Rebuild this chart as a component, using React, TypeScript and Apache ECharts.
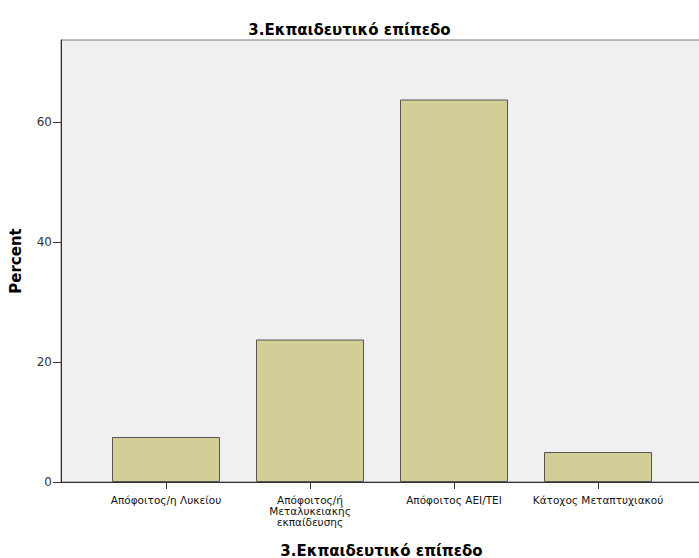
import React, { useEffect, useRef } from "react";
import * as echarts from "echarts";

const categories = [
  "Απόφοιτος/η Λυκείου",
  "Απόφοιτος/ή\nΜεταλυκειακής\nεκπαίδευσης",
  "Απόφοιτος ΑΕΙ/ΤΕΙ",
  "Κάτοχος Μεταπτυχιακού",
];
const percents = [7.5, 23.75, 63.75, 5.0];
const yTicks = [0, 20, 40, 60];
const titleText = "3.Εκπαιδευτικό επίπεδο";
const yName = "Percent";

export default function App() {
  const ref = useRef<HTMLDivElement>(null);
  useEffect(() => {
    if (!ref.current) return;
    const chart = echarts.init(ref.current, null, { renderer: "svg" });
    const font = "'DejaVu Sans', sans-serif";
    const positions = categories.map((_, i) => i);
    chart.setOption({
      animation: false,
      backgroundColor: "#ffffff",
      textStyle: { fontFamily: font },
      title: {
        text: titleText,
        left: "center",
        top: 17,
        textStyle: { fontSize: 15, fontWeight: "bold", color: "#000", fontFamily: font },
      },
      grid: {
        left: 61,
        right: -3,
        top: 40,
        bottom: 76,
        containLabel: false,
        outerBoundsMode: "none",
        show: true,
        backgroundColor: "#f0f0f0",
        borderColor: "#7a7a7a",
        borderWidth: 1,
      },
      xAxis: {
        type: "value",
        min: -0.729,
        max: 3.722,
        name: titleText,
        nameLocation: "middle",
        nameGap: 61,
        nameTextStyle: { fontSize: 15, fontWeight: "bold", color: "#000", fontFamily: font },
        splitLine: { show: false },
        axisLine: { show: true, onZero: false, lineStyle: { color: "#333", width: 1 } },
        axisTick: { show: true, length: 7, customValues: positions, lineStyle: { color: "#333" } },
        axisLabel: {
          customValues: positions,
          formatter: (v: number) => categories[Math.round(v)] ?? "",
          fontSize: 10.5,
          lineHeight: 11,
          color: "#111",
          margin: 12,
          fontFamily: font,
        },
      },
      yAxis: {
        type: "value",
        min: 0,
        max: 73.67,
        interval: 20,
        name: yName,
        nameLocation: "middle",
        nameRotate: 90,
        nameGap: 38,
        nameTextStyle: { fontSize: 15, fontWeight: "bold", color: "#000", fontFamily: font },
        splitLine: { show: false },
        axisLine: { show: true, onZero: false, lineStyle: { color: "#333", width: 1 } },
        axisTick: { show: true, length: 8, customValues: yTicks, lineStyle: { color: "#333" } },
        axisLabel: {
          fontSize: 12,
          color: "#333",
          margin: 9,
          fontFamily: font,
          customValues: yTicks,
        },
      },
      series: [
        {
          type: "bar",
          barWidth: 108,
          data: percents.map((v, i) => [i, v]),
          itemStyle: { color: "#d3ce97", borderColor: "#555", borderWidth: 1 },
        },
      ],
    });
    return () => chart.dispose();
  }, []);
  return <div ref={ref} style={{ width: 699, height: 558, position: "absolute", left: 0, top: 0 }} />;
}
